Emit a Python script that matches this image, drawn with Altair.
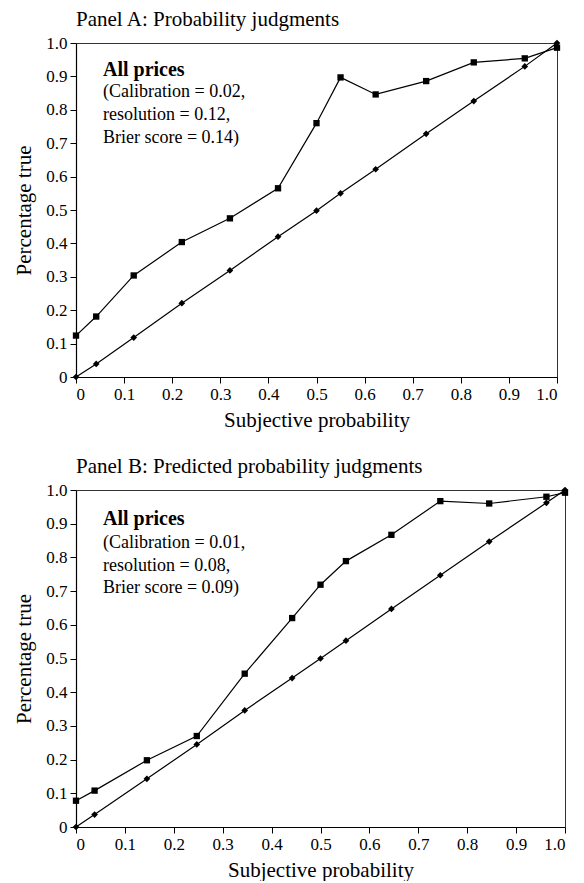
import altair as alt
import pandas as pd

# ---- data ----
xa = [0, 0.042, 0.12, 0.22, 0.32, 0.42, 0.5, 0.55, 0.623, 0.728, 0.827, 0.933, 1.0]
ya_true = [0.124, 0.181, 0.304, 0.404, 0.475, 0.565, 0.76, 0.897, 0.846, 0.886, 0.942, 0.954, 0.986]
ya_diag = [0, 0.039, 0.118, 0.221, 0.319, 0.42, 0.498, 0.55, 0.622, 0.728, 0.826, 0.93, 1.0]

xb = [0, 0.038, 0.145, 0.247, 0.345, 0.442, 0.5, 0.552, 0.645, 0.745, 0.845, 0.962, 1.0]
yb_true = [0.078, 0.108, 0.198, 0.27, 0.455, 0.62, 0.719, 0.789, 0.867, 0.967, 0.96, 0.98, 0.992]
yb_diag = [0, 0.037, 0.143, 0.245, 0.346, 0.442, 0.5, 0.553, 0.647, 0.747, 0.847, 0.962, 1.0]

series_names = ["Percentage true", "Subjective probability"]
tick_values = [0, 0.1, 0.2, 0.3, 0.4, 0.5, 0.6, 0.7, 0.8, 0.9, 1.0]

title_a = "Panel A: Probability judgments"
title_b = "Panel B: Predicted probability judgments"
ann_a = ["All prices", "(Calibration = 0.02,", "resolution = 0.12,", "Brier score = 0.14)"]
ann_b = ["All prices", "(Calibration = 0.01,", "resolution = 0.08,", "Brier score = 0.09)"]

FONT = "Liberation Serif"
LABEL_EXPR = "datum.value == 0 ? '0' : format(datum.value, '.1f')"


def panel(title, xs, ytrue, ydiag, ann, width, height, ann_y):
    n = len(xs)
    df = pd.DataFrame({
        "x": xs + xs,
        "y": ytrue + ydiag,
        "series": [series_names[0]] * n + [series_names[1]] * n,
    })
    xenc = alt.X("x:Q",
                 scale=alt.Scale(domain=[0, 1], nice=False, zero=False),
                 axis=alt.Axis(values=tick_values, labelExpr=LABEL_EXPR,
                               title="Subjective probability"))
    yenc = alt.Y("y:Q",
                 scale=alt.Scale(domain=[0, 1], nice=False, zero=False),
                 axis=alt.Axis(values=tick_values, labelExpr=LABEL_EXPR,
                               title="Percentage true"))
    base = alt.Chart(df)
    line = base.mark_line(color="black", strokeWidth=1.2).encode(
        x=xenc, y=yenc, detail="series:N")
    pts = base.mark_point(filled=True, color="black", opacity=1).encode(
        x=xenc, y=yenc,
        shape=alt.Shape("series:N",
                        scale=alt.Scale(domain=series_names, range=["square", "diamond"]),
                        legend=None),
        size=alt.Size("series:N",
                      scale=alt.Scale(domain=series_names, range=[40, 45]),
                      legend=None),
    )
    layers = [line, pts]
    for i, t in enumerate(ann):
        tdf = pd.DataFrame({"t": [t]})
        layers.append(
            alt.Chart(tdf).mark_text(
                align="left", baseline="alphabetic", font=FONT,
                fontSize=20 if i == 0 else 18,
                fontWeight="bold" if i == 0 else "normal",
                color="black",
            ).encode(x=alt.value(27), y=alt.value(ann_y[i]), text="t:N")
        )
    return alt.layer(*layers).properties(
        width=width, height=height,
        title=alt.TitleParams(title, anchor="start", frame="group", font=FONT,
                              fontSize=21, fontWeight="normal", color="black",
                              offset=4),
    )


pa = panel(title_a, xa, ya_true, ya_diag, ann_a, 481, 334, [33, 54, 77, 100])
pb = panel(title_b, xb, yb_true, yb_diag, ann_b, 489, 337, [35, 58, 81, 103])

chart = alt.vconcat(pa, pb, spacing=24).properties(
    padding={"left": 5, "top": 0, "right": 5, "bottom": 0}
).configure_view(
    stroke="#333", strokeWidth=1
).configure_axis(
    grid=False, domainColor="black", tickColor="black", tickSize=6,
    labelFont=FONT, labelFontSize=17, labelColor="black", labelPadding=3,
    titleFont=FONT, titleFontSize=21, titleFontWeight="normal", titleColor="black",
    domainWidth=1.2, tickWidth=1,
).configure_axisX(
    titlePadding=7,
).configure_axisY(
    titlePadding=11,
)

chart.save("out.html", embed_options={"renderer": "svg", "actions": False})
